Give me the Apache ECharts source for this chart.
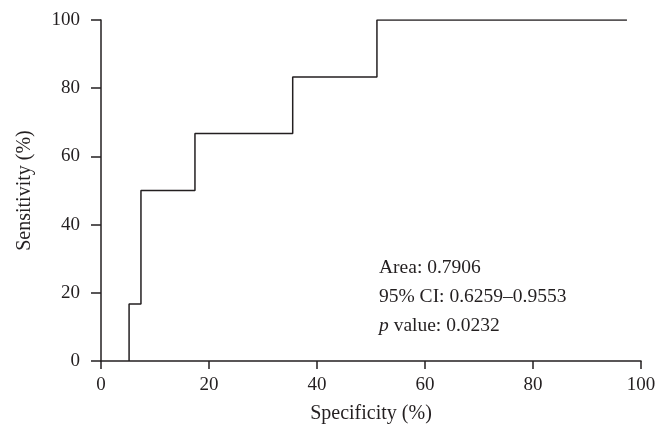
<!DOCTYPE html>
<html>
<head>
<meta charset="utf-8">
<script src="https://cdn.jsdelivr.net/npm/echarts@6/dist/echarts.min.js"></script>
<style>
  html, body { margin: 0; padding: 0; background: #fff; }
  #chart { width: 671px; height: 446px; }
</style>
</head>
<body>
<div id="chart"></div>
<script>
// ROC curve
var specificity = [5.2, 7.4, 17.4, 35.5, 51.1, 97.4];
var sensitivity = [0, 16.7, 50, 66.7, 83.3, 100];
var statLines = ["Area: 0.7906", "95% CI: 0.6259\u20130.9553", "value: 0.0232"];

var ink = "#231f20";
var serif = "'Liberation Serif', 'DejaVu Serif', serif";

var points = [];
for (var i = 0; i < specificity.length; i++) {
    points.push([specificity[i], sensitivity[i]]);
}

var axisCommon = {
    type: "value",
    min: 0,
    max: 100,
    interval: 20,
    splitLine: { show: false },
    axisLine: { show: true, lineStyle: { color: ink, width: 1.5 } },
    axisLabel: { color: ink, fontFamily: serif, fontSize: 19 },
    nameLocation: "middle",
    nameTextStyle: { color: ink, fontFamily: serif, fontSize: 20 }
};

var myChart = echarts.init(document.getElementById("chart"));
var option = {
    backgroundColor: "#fff",
    animation: false,
    grid: { left: 101, right: 30, top: 20, bottom: 85 },
    xAxis: Object.assign({}, axisCommon, {
        name: "Specificity (%)",
        nameGap: 43,
        axisTick: { show: true, length: 8, lineStyle: { color: ink, width: 1.5 } },
        axisLabel: Object.assign({}, axisCommon.axisLabel, { margin: 15 })
    }),
    yAxis: Object.assign({}, axisCommon, {
        name: "Sensitivity (%)",
        nameGap: 66,
        axisTick: { show: true, length: 10, lineStyle: { color: ink, width: 1.5 } },
        axisLabel: Object.assign({}, axisCommon.axisLabel, { margin: 21 })
    }),
    series: [{
        type: "line",
        step: "start",
        data: points,
        symbol: "none",
        lineStyle: { color: ink, width: 1.5 }
    }],
    graphic: [{
        type: "text",
        left: 379,
        top: 253,
        style: {
            text: statLines[0] + "\n" + statLines[1] + "\n{i|p} " + statLines[2],
            fill: ink,
            font: "19.5px " + serif,
            lineHeight: 29,
            rich: {
                i: { fontStyle: "italic", fontFamily: serif, fontSize: 19.5, fill: ink }
            }
        }
    }]
};
myChart.setOption(option);
</script>
</body>
</html>
